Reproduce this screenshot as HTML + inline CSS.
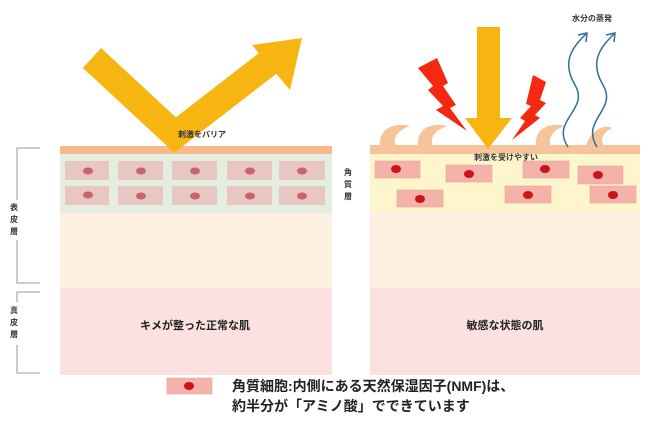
<!DOCTYPE html>
<html><head><meta charset="utf-8"><style>
body{margin:0;width:650px;height:420px;background:#fff;overflow:hidden;font-family:"Liberation Sans","Noto Sans CJK JP",sans-serif}
svg text{font-family:"Liberation Sans","Noto Sans CJK JP",sans-serif}
</style></head><body>
<svg width="650" height="420" viewBox="0 0 650 420">
<rect x="60" y="213" width="272" height="75" fill="#fdf0e0"/>
<rect x="60" y="288" width="272" height="87" fill="#fbe1df"/>
<rect x="60" y="153" width="272" height="60" fill="#e3eee0"/>
<rect x="60" y="146" width="272" height="8" fill="#f7b98a"/>
<g fill="#e8c6c2">
<rect x="65" y="161" width="44" height="19"/><rect x="118" y="161" width="45" height="19"/><rect x="172" y="161" width="45" height="19"/><rect x="227" y="161" width="45" height="19"/><rect x="279" y="161" width="46" height="19"/>
<rect x="65" y="186" width="44" height="19"/><rect x="118" y="186" width="45" height="19"/><rect x="172" y="186" width="45" height="19"/><rect x="227" y="186" width="45" height="19"/><rect x="279" y="186" width="46" height="19"/>
</g>
<g fill="#c9636a">
<ellipse cx="88" cy="171" rx="5" ry="3.5"/><ellipse cx="141" cy="171" rx="5" ry="3.5"/><ellipse cx="195" cy="171" rx="5" ry="3.5"/><ellipse cx="250" cy="171" rx="5" ry="3.5"/><ellipse cx="302" cy="171" rx="5" ry="3.5"/>
<ellipse cx="88" cy="195" rx="5" ry="3.5"/><ellipse cx="141" cy="196" rx="5" ry="3.5"/><ellipse cx="195" cy="196" rx="5" ry="3.5"/><ellipse cx="250" cy="196" rx="5" ry="3.5"/><ellipse cx="302" cy="196" rx="5" ry="3.5"/>
</g>
<polyline points="92,58 175,135 272,60" fill="none" stroke="#f7b511" stroke-width="27" stroke-linejoin="miter"/>
<polygon points="252,45 302,38 290,90" fill="#f7b511"/>
<text x="178" y="137" font-size="8" font-weight="bold" fill="#333">刺激をバリア</text>
<text x="195" y="329" font-size="11" font-weight="bold" text-anchor="middle" fill="#222">キメが整った正常な肌</text>

<g stroke="#999" stroke-width="1" fill="none">
<polyline points="40,148 17,148 17,200"/><polyline points="17,240 17,283 40,283"/>
<polyline points="40,292 17,292 17,302"/><polyline points="17,345 17,373 40,373"/>
</g>
<g font-size="8" font-weight="bold" fill="#333" text-anchor="middle">
<text x="14" y="210">表</text><text x="14" y="222">皮</text><text x="14" y="234">層</text>
<text x="14" y="313">真</text><text x="14" y="325">皮</text><text x="14" y="337">層</text>
<text x="348" y="175">角</text><text x="348" y="187">質</text><text x="348" y="199">層</text>
</g>

<rect x="370" y="213" width="270" height="75" fill="#fdf0e0"/>
<rect x="370" y="288" width="270" height="87" fill="#fbe1df"/>
<rect x="370" y="153" width="270" height="60" fill="#fdf5cb"/>
<g fill="#f7c39a">
<path d="M380,146 C378,128 395,122 410,126 C398,130 392,138 396,146 Z"/>
<path d="M418,146 C416,128 432,122 447,126 C435,130 429,138 433,146 Z"/>
<path d="M536,146 C534,128 550,122 565,126 C553,130 547,138 551,146 Z"/>
<path d="M586,146 C590,130 605,124 612,128 C602,133 600,140 604,146 Z"/>
</g>
<rect x="370" y="145" width="270" height="9" fill="#f7c39a"/>
<g fill="#f4b2ab" stroke="#e79a92" stroke-width="0.5">
<rect x="375" y="161" width="45" height="17"/><rect x="446" y="165" width="46" height="17"/><rect x="523" y="161" width="46" height="17"/><rect x="578" y="166" width="45" height="18"/>
<rect x="397" y="190" width="46" height="17"/><rect x="505" y="186" width="46" height="17"/><rect x="590" y="186" width="46" height="17"/>
</g>
<g fill="#c8141a">
<ellipse cx="396" cy="169" rx="5" ry="4"/><ellipse cx="469" cy="174" rx="5" ry="4"/><ellipse cx="545" cy="169" rx="5" ry="4"/><ellipse cx="598" cy="175" rx="5" ry="4"/>
<ellipse cx="420" cy="199" rx="5" ry="4"/><ellipse cx="528" cy="195" rx="5" ry="4"/><ellipse cx="613" cy="195" rx="5" ry="4"/>
</g>
<rect x="477" y="27" width="23" height="93" fill="#f7b511"/>
<polygon points="465,118 512,118 488,149" fill="#f7b511"/>
<polygon points="418,68 437,58 448,83 443,86 456,105 450,108 467,131 436,110 443,106 428,90 433,86" fill="#f42a10"/>
<polygon points="546,82 533,75 526,104 531,106 520,118 525,121 512,140 540,118 535,115 546,103 540,100" fill="#f42a10"/>
<g fill="none" stroke="#2f6f9a" stroke-width="1.5">
<path d="M568,147 C550,120 590,110 575,85 C560,60 575,45 586,34"/>
<polyline points="578,35 587,33 586,42"/>
<path d="M597,147 C580,120 618,110 603,85 C588,60 603,45 614,34"/>
<polyline points="606,35 615,33 614,42"/>
</g>
<text x="572" y="21" font-size="8" font-weight="bold" fill="#333">水分の蒸発</text>
<text x="474" y="160" font-size="8" font-weight="bold" fill="#333">刺激を受けやすい</text>
<text x="505" y="329" font-size="11" font-weight="bold" text-anchor="middle" fill="#222">敏感な状態の肌</text>

<rect x="167" y="378" width="45" height="16" fill="#f4b2ab" stroke="#e79a92" stroke-width="0.5"/>
<ellipse cx="189" cy="386" rx="5" ry="4" fill="#c8141a"/>
<text x="232" y="391" font-size="14" font-weight="bold" fill="#222">角質細胞:内側にある天然保湿因子(NMF)は、</text>
<text x="232" y="411" font-size="14" font-weight="bold" fill="#222">約半分が「アミノ酸」でできています</text>
</svg>
</body></html>
